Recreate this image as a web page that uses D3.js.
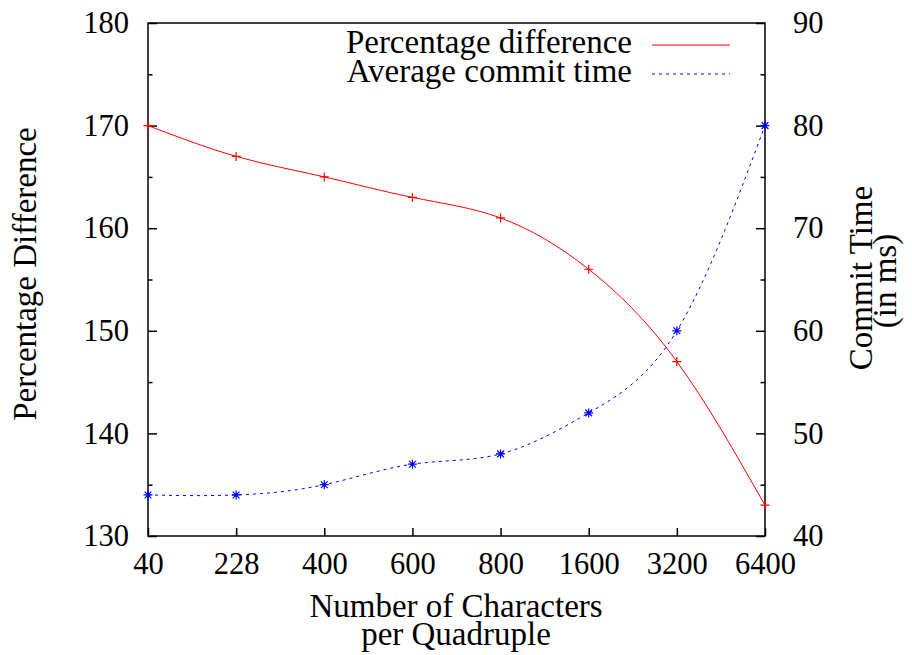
<!DOCTYPE html>
<html>
<head>
<meta charset="utf-8">
<script src="https://cdn.jsdelivr.net/npm/d3@7"></script>
<style>
  html, body { margin: 0; padding: 0; background: #fff; }
  svg text { font-family: "Liberation Serif", "Times New Roman", serif; fill: #000; }
</style>
</head>
<body>
<svg id="chart" width="912" height="655"></svg>
<script>
const categories = ["40", "228", "400", "600", "800", "1600", "3200", "6400"];
const percentageDifference = [170, 167, 165, 163, 161, 156, 147, 133];
const commitTime = [44, 44, 45, 47, 48, 52, 60, 80];
const leftTicks = [130, 140, 150, 160, 170, 180];
const leftMinorTicks = [135, 145, 155, 165, 175];
const rightTicks = [40, 50, 60, 70, 80, 90];
const rightMinorTicks = [45, 55, 65, 75, 85];
const seriesNames = ["Percentage difference", "Average commit time"];

const svg = d3.select("#chart");
const L = 148, R = 765, T = 23, B = 536;

const x = d3.scalePoint().domain(categories).range([L, R]);
const yL = d3.scaleLinear().domain([130, 180]).range([B, T]);
const yR = d3.scaleLinear().domain([40, 90]).range([B, T]);

const tickFont = "30.5px";
const labelFont = "33px";

// Left axis
const gl = svg.append("g").attr("transform", `translate(${L},0)`)
  .call(d3.axisLeft(yL).tickValues(leftTicks).tickSize(-9).tickSizeOuter(0).tickPadding(19));
gl.append("g").call(d3.axisLeft(yL).tickValues(leftMinorTicks).tickSize(-4.5).tickSizeOuter(0).tickFormat(""));
// Right axis
const gr = svg.append("g").attr("transform", `translate(${R},0)`)
  .call(d3.axisRight(yR).tickValues(rightTicks).tickSize(-9).tickSizeOuter(0).tickPadding(28));
gr.append("g").call(d3.axisRight(yR).tickValues(rightMinorTicks).tickSize(-4.5).tickSizeOuter(0).tickFormat(""));
// Bottom axis
const gb = svg.append("g").attr("transform", `translate(0,${B})`)
  .call(d3.axisBottom(x).tickSize(-8).tickSizeOuter(0).tickPadding(16));

[gl, gr, gb].forEach(g => {
  g.selectAll(".domain").remove();
  g.selectAll("line").attr("stroke", "#000").attr("stroke-width", 1.5);
  g.selectAll("text").style("font-size", tickFont).style("font-family", '"Liberation Serif", serif').attr("fill", "#000");
});
svg.selectAll("g").attr("font-family", null).attr("font-size", null);

// Border
svg.append("rect").attr("x", L).attr("y", T).attr("width", R - L).attr("height", B - T)
  .attr("fill", "none").attr("stroke", "#000").attr("stroke-width", 1.5);

// Lines
const lineL = d3.line().x((d, i) => x(categories[i])).y(d => yL(d)).curve(d3.curveNatural);
const lineR = d3.line().x((d, i) => x(categories[i])).y(d => yR(d)).curve(d3.curveNatural);

svg.append("path").attr("d", lineL(percentageDifference)).attr("fill", "none")
  .attr("stroke", "#ff0000").attr("stroke-width", 1);
svg.append("path").attr("d", lineR(commitTime)).attr("fill", "none")
  .attr("stroke", "#0000ff").attr("stroke-width", 1).attr("stroke-dasharray", "3,4");

// Markers
const s = 4.5;
const plus = (cx, cy) => `M${cx - s},${cy}H${cx + s}M${cx},${cy - s}V${cy + s}`;
const star = (cx, cy) => plus(cx, cy) + `M${cx - s * 0.75},${cy - s * 0.75}L${cx + s * 0.75},${cy + s * 0.75}M${cx - s * 0.75},${cy + s * 0.75}L${cx + s * 0.75},${cy - s * 0.75}`;

svg.append("g").selectAll("path").data(percentageDifference).join("path")
  .attr("d", (d, i) => plus(x(categories[i]), yL(d)))
  .attr("stroke", "#ff0000").attr("stroke-width", 1.2).attr("fill", "none");
svg.append("g").selectAll("path").data(commitTime).join("path")
  .attr("d", (d, i) => star(x(categories[i]), yR(d)))
  .attr("stroke", "#0000ff").attr("stroke-width", 1.2).attr("fill", "none");

// Legend
const legend = svg.append("g");
const legY = [45, 74];
legend.selectAll("text").data(seriesNames).join("text")
  .attr("x", 632).attr("y", (d, i) => legY[i] + 8)
  .attr("text-anchor", "end").style("font-size", labelFont).text(d => d);
legend.append("line").attr("x1", 652).attr("x2", 730).attr("y1", legY[0]).attr("y2", legY[0])
  .attr("stroke", "#ff0000").attr("stroke-width", 1);
legend.append("line").attr("x1", 652).attr("x2", 730).attr("y1", legY[1]).attr("y2", legY[1])
  .attr("stroke", "#0000ff").attr("stroke-width", 1).attr("stroke-dasharray", "3,4");

// Axis labels
svg.append("text").attr("x", 456).attr("y", 617).attr("text-anchor", "middle")
  .style("font-size", labelFont).text("Number of Characters");
svg.append("text").attr("x", 456).attr("y", 645).attr("text-anchor", "middle")
  .style("font-size", labelFont).text("per Quadruple");

svg.append("text").attr("transform", "translate(36,274) rotate(-90)").attr("text-anchor", "middle")
  .style("font-size", labelFont).text("Percentage Difference");

svg.append("text").attr("transform", "translate(872,278) rotate(-90)").attr("text-anchor", "middle")
  .style("font-size", labelFont).text("Commit Time");
svg.append("text").attr("transform", "translate(896,281) rotate(-90)").attr("text-anchor", "middle")
  .style("font-size", labelFont).text("(in ms)");
</script>
</body>
</html>
